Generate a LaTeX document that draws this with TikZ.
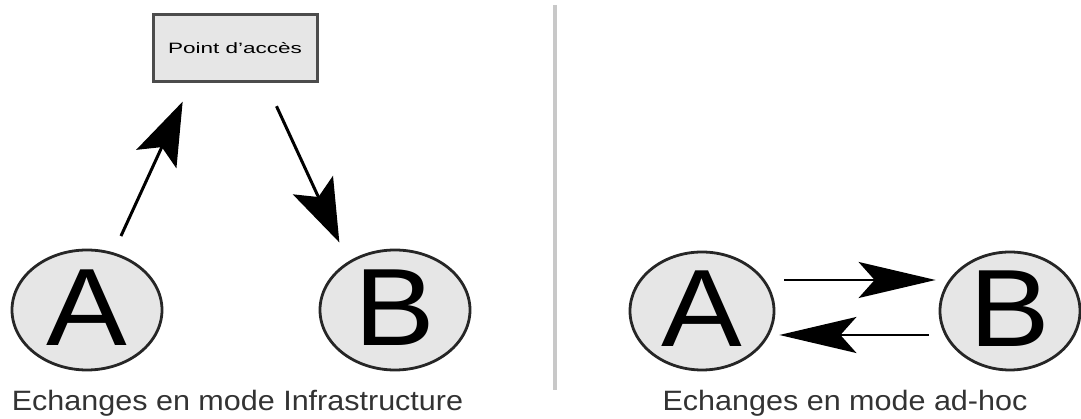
\documentclass[tikz,border=0pt]{standalone}
\usepackage{fontspec}
\setmainfont{Liberation Sans}
\usetikzlibrary{arrows.meta,shapes.geometric}
\definecolor{nodegray}{HTML}{E6E6E6}
\definecolor{sepgray}{HTML}{C8C8C8}
\definecolor{captiongray}{HTML}{333333}
\begin{document}
\begin{tikzpicture}[x=1pt, y=1pt,
  station/.style={ellipse, draw=black!85, line width=2.8pt, fill=nodegray, inner sep=0pt,
    minimum width=150pt, minimum height=120pt, font=\fontsize{110}{110}\selectfont},
  accesspt/.style={rectangle, draw=black!70, line width=3pt, fill=nodegray, inner sep=0pt,
    minimum width=164pt, minimum height=67pt, font=\fontsize{15}{15}\selectfont},
  caption/.style={text=captiongray, font=\fontsize{28}{28}\selectfont},
  infra/.style={line width=3pt, -{Stealth[length=63pt, width=44pt, inset=13pt]}},
  adhoc/.style={line width=2.2pt, -{Stealth[length=77pt, width=36pt, inset=16pt]}}]
  \useasboundingbox (0,0) rectangle (1081,419);
  \draw[sepgray, line width=4pt] (555,414) -- (555,29);
  % infrastructure
  \node[accesspt] (AP) at (235,370.5) {\scalebox{1.5}[1]{Point d'accès}};
  \node[station] (A1) at (87,109) {\raisebox{4pt}{\scalebox{1.1}[1]{A}}};
  \node[station] (B1) at (395,109) {\raisebox{4pt}{\scalebox{1.1}[1]{B}}};
  \draw[infra, shorten <=18pt, shorten >=20pt] (A1) -- ([xshift=-44pt]AP.south);
  \draw[infra, shorten <=25pt, shorten >=21pt] ([xshift=31pt]AP.south) -- (B1.134);
  \node[caption] (cap1) at (237.5,16) {\scalebox{1.09}[1]{Echanges en mode Infrastructure}};
  % ad-hoc
  \node[station, minimum width=144pt, minimum height=118pt] (A2) at (702,108) {\raisebox{4pt}{\scalebox{1.1}[1]{A}}};
  \node[station, minimum width=140pt, minimum height=118pt] (B2) at (1010,108) {\raisebox{4pt}{\scalebox{1.1}[1]{B}}};
  \draw[adhoc, shorten <=9pt, shorten >=3pt] ([yshift=31pt]A2.east) -- ([yshift=31pt]B2.west);
  \draw[adhoc, shorten <=10pt, shorten >=4pt] ([yshift=-24pt]B2.west) -- ([yshift=-24pt]A2.east);
  \node[caption] (cap2) at (845,16) {\scalebox{1.09}[1]{Echanges en mode ad-hoc}};
\end{tikzpicture}
\end{document}
